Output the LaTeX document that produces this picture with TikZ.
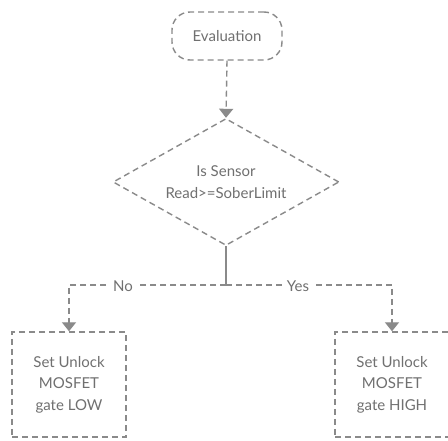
\documentclass[tikz,border=0pt]{standalone}
\usepackage{fontspec}
\setmainfont{Lato}
\usetikzlibrary{shapes.geometric,arrows.meta}
\definecolor{ln}{HTML}{8A8A8A}
\definecolor{tx}{HTML}{707070}
\begin{document}
\begin{tikzpicture}[
  base/.style={draw=ln, line width=1.4pt, dash pattern=on 6pt off 4pt, text=tx,
    font=\fontsize{15}{21.5}\selectfont, align=center, inner sep=0pt},
  termbox/.style={base, rectangle, rounded corners=18pt, minimum width=110pt, minimum height=48pt},
  decbox/.style={base, diamond, aspect=1.78, minimum width=226pt, minimum height=127pt},
  procbox/.style={base, rectangle, minimum width=114pt, minimum height=105pt},
  conn/.style={draw=ln, line width=1.4pt, dash pattern=on 6pt off 4pt},
  tip/.style={-{Triangle[length=9pt,width=14pt]}},
  lbl/.style={fill=white, text=tx, font=\fontsize{15}{18}\selectfont, inner sep=3pt}
]
\fill[white] (0pt,0pt) rectangle (448pt,440pt);
\useasboundingbox (0pt,0pt) rectangle (448pt,440pt);
\node[termbox] (eval) at (227pt,404pt) {Evaluation};
\node[decbox] (dec) at (226pt,258pt) {Is Sensor\\Read>=SoberLimit};
\node[procbox] (low) at (69pt,55.5pt) {Set Unlock\\MOSFET\\gate LOW};
\node[procbox] (high) at (392pt,55.5pt) {Set Unlock\\MOSFET\\gate HIGH};
\coordinate (j) at (226pt,155pt);
\draw[conn, tip] (eval.south) -- (dec.north);
\draw[draw=ln, line width=1.4pt] (dec.south) -- (j);
\draw[conn, tip] (j) -- (low.north |- j) -- (low.north);
\draw[conn, tip] (j) -- (high.north |- j) -- (high.north);
\node[lbl] (no) at (123pt,154pt) {No};
\node[lbl] (yes) at (298pt,154pt) {Yes};
\end{tikzpicture}
\end{document}
